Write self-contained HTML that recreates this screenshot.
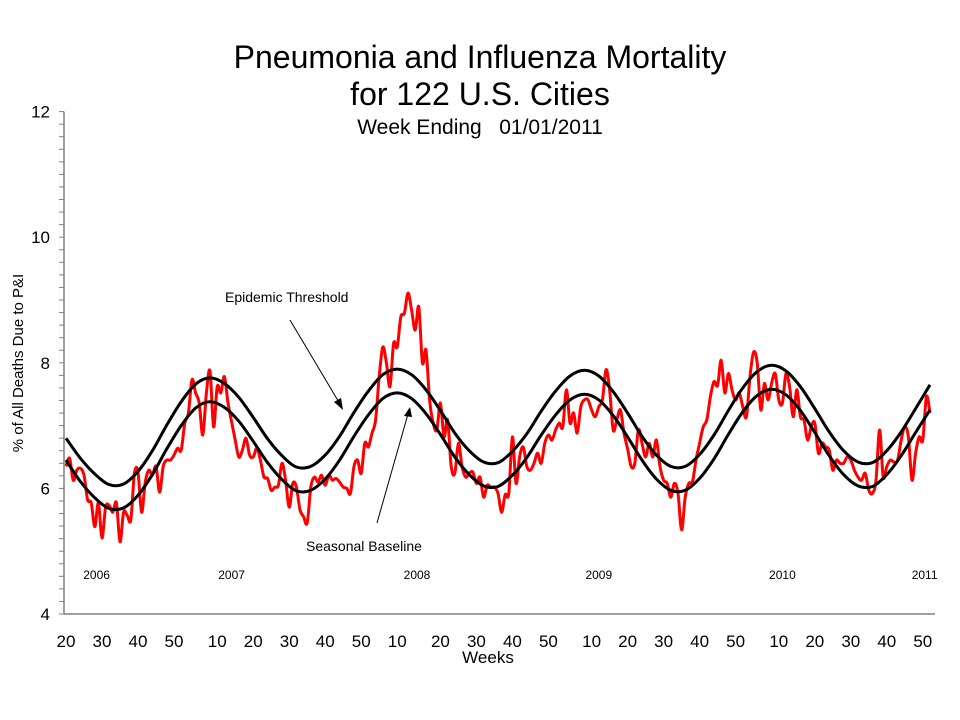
<!DOCTYPE html>
<html><head><meta charset="utf-8"><style>
html,body{margin:0;padding:0;background:#fff;}
svg{display:block;font-family:"Liberation Sans",Arial,sans-serif;}
</style></head><body>
<svg id="chart" width="960" height="720" viewBox="0 0 960 720">
<rect x="0" y="0" width="960" height="720" fill="#fff"/>
<text x="480" y="68" text-anchor="middle" font-size="32">Pneumonia and Influenza Mortality</text>
<text x="480" y="105" text-anchor="middle" font-size="32">for 122 U.S. Cities</text>
<text x="480" y="134" text-anchor="middle" font-size="21" xml:space="preserve">Week Ending   01/01/2011</text>
<text transform="translate(23,363) rotate(-90)" text-anchor="middle" font-size="15">% of All Deaths Due to P&amp;I</text>
<text x="488" y="663" text-anchor="middle" font-size="17">Weeks</text>
<g id="axes"></g>
<g id="series"></g>
<text x="225" y="302" font-size="14">Epidemic Threshold</text>
<text x="306" y="551" font-size="14">Seasonal Baseline</text>
<g>
<line x1="290" y1="320" x2="340" y2="404" stroke="#000" stroke-width="1"/>
<polygon points="343,410 334,402 341,398" fill="#000"/>
</g>
<g>
<line x1="377" y1="523" x2="408" y2="414" stroke="#000" stroke-width="1"/>
<polygon points="410,407 404,416 412,417" fill="#000"/>
</g>
</svg>
<script>
const pctValues = [6.35,6.48,6.13,6.29,6.32,6.21,5.82,5.77,5.39,5.77,5.21,5.70,5.73,5.62,5.77,5.15,5.62,5.57,5.50,6.24,
6.26,5.62,6.09,6.29,6.21,6.35,5.94,6.35,6.45,6.45,6.53,6.64,6.61,7.04,7.20,7.73,7.52,7.36,6.85,7.52,
7.87,6.98,7.62,7.52,7.78,7.36,7.06,6.77,6.50,6.61,6.80,6.53,6.50,6.64,6.45,6.18,6.16,5.97,6.02,6.05,
6.40,6.13,5.70,6.08,6.02,5.66,5.55,5.45,6.02,6.18,6.10,6.21,6.05,6.21,6.13,6.16,6.10,6.02,6.00,5.92,
6.35,6.45,6.24,6.72,6.66,6.88,7.09,7.78,8.25,8.00,7.62,8.31,8.25,8.73,8.79,9.11,8.84,8.52,8.89,8.00,
8.20,7.41,7.04,6.93,7.36,6.82,7.09,6.35,6.24,6.72,6.35,6.18,6.24,6.26,6.08,6.18,5.86,6.05,6.02,6.02,
5.92,5.62,5.90,5.92,6.82,6.08,6.50,6.66,6.35,6.29,6.40,6.56,6.40,6.72,6.85,6.77,6.93,7.04,6.98,7.57,
7.04,7.20,6.88,7.30,7.41,7.41,7.25,7.14,7.30,7.41,7.89,7.57,6.93,7.09,7.25,6.88,6.63,6.35,6.40,6.93,
6.72,6.50,6.72,6.50,6.77,6.35,6.13,6.08,5.86,6.08,5.92,5.34,5.86,6.08,6.10,6.45,6.72,6.98,7.09,7.46,
7.70,7.64,8.04,7.52,7.83,7.57,7.41,7.52,7.30,7.14,7.78,8.17,8.00,7.25,7.67,7.41,7.67,7.83,7.41,7.36,
7.83,7.62,7.14,7.57,7.14,7.09,6.77,6.98,7.04,6.56,6.72,6.66,6.61,6.29,6.45,6.40,6.40,6.50,6.45,6.29,
6.18,6.13,6.24,5.97,5.92,6.13,6.93,6.18,6.35,6.45,6.42,6.45,6.77,6.98,6.82,6.13,6.56,6.82,6.77,7.46,7.20];
const baselineValues = [6.45,6.11,5.85,5.68,5.69,5.89,6.22,6.63,7.00,7.28,7.38,7.29,7.07,6.75,6.41,6.14,5.96,5.97,6.15,6.45,
6.83,7.17,7.43,7.52,7.43,7.19,6.86,6.50,6.22,6.04,6.03,6.21,6.49,6.85,7.17,7.41,7.50,7.41,7.16,6.82,
6.45,6.15,5.97,5.97,6.16,6.47,6.86,7.22,7.48,7.58,7.49,7.24,6.89,6.52,6.22,6.04,6.03,6.22,6.52,6.89,7.25];
const thresholdValues = [6.80,6.48,6.23,6.06,6.07,6.27,6.60,7.01,7.38,7.66,7.76,7.67,7.45,7.13,6.79,6.52,6.34,6.35,6.53,6.83,
7.21,7.55,7.81,7.90,7.81,7.57,7.24,6.88,6.60,6.42,6.41,6.59,6.87,7.23,7.55,7.79,7.88,7.79,7.54,7.20,
6.83,6.53,6.35,6.35,6.54,6.85,7.24,7.60,7.86,7.96,7.87,7.62,7.27,6.90,6.60,6.42,6.41,6.60,6.90,7.27,7.65];
const baselineStep = 4;
const yTicks = [4,6,8,10,12];
const weekTickLabels = ["20","30","40","50","10","20","30","40","50","10","20","30","40","50","10","20","30","40","50","10","20","30","40","50"];
const weekTickIndex = [0,10,20,30,42,52,62,72,82,92,104,114,124,134,146,156,166,176,186,198,208,218,228,238];
const yearLabels = ["2006","2007","2008","2009","2010","2011"];
const yearLabelIndex = [8.5,46,97.5,148,199,238.5];

const X0 = 66, XSTEP = 3.6, Y4 = 614, YUNIT = 62.8;
function xScale(i){ return X0 + i*XSTEP; }
function yScale(v){ return Y4 - (v-4)*YUNIT; }
const NS = "http://www.w3.org/2000/svg";
function mk(tag, parent){ const e=document.createElementNS(NS,tag); parent.appendChild(e); return e; }
function smoothPath(pts){
  let d = "M"+pts[0][0].toFixed(1)+","+pts[0][1].toFixed(1);
  for(let k=0;k<pts.length-1;k++){
    const p0=pts[Math.max(0,k-1)], p1=pts[k], p2=pts[k+1], p3=pts[Math.min(pts.length-1,k+2)];
    const c1x=p1[0]+(p2[0]-p0[0])/6, c1y=p1[1]+(p2[1]-p0[1])/6;
    const c2x=p2[0]-(p3[0]-p1[0])/6, c2y=p2[1]-(p3[1]-p1[1])/6;
    d += " C"+c1x.toFixed(1)+","+c1y.toFixed(1)+" "+c2x.toFixed(1)+","+c2y.toFixed(1)+" "+p2[0].toFixed(1)+","+p2[1].toFixed(1);
  }
  return d;
}
const axes = document.getElementById("axes");
const yAxis = mk("line", axes);
yAxis.setAttribute("x1",64); yAxis.setAttribute("x2",64); yAxis.setAttribute("y1",yScale(12)); yAxis.setAttribute("y2",Y4);
yAxis.setAttribute("stroke","#808080"); yAxis.setAttribute("stroke-width","1.5");


const xAxis = mk("line", axes);
xAxis.setAttribute("x1",64); xAxis.setAttribute("x2",935); xAxis.setAttribute("y1",Y4); xAxis.setAttribute("y2",Y4);
xAxis.setAttribute("stroke","#808080"); xAxis.setAttribute("stroke-width","1.5");


for(let v=4; v<=12.001; v+=0.2){
  const t = mk("line", axes);
  const y = yScale(v);
  t.setAttribute("x1", 59); t.setAttribute("x2", 64); t.setAttribute("y1", y); t.setAttribute("y2", y);
  t.setAttribute("stroke","#808080"); t.setAttribute("stroke-width","1");
  
  
}
yTicks.forEach(v=>{
  const t = mk("text", axes);
  t.setAttribute("x", 50); t.setAttribute("y", yScale(v)+6); t.setAttribute("text-anchor","end"); t.setAttribute("font-size","17");
  t.textContent = String(v);
  
  
});
weekTickLabels.forEach((lab,k)=>{
  const t = mk("text", axes);
  t.setAttribute("x", xScale(weekTickIndex[k])); t.setAttribute("y", 647); t.setAttribute("text-anchor","middle"); t.setAttribute("font-size","17");
  t.textContent = lab;
  
  
});
yearLabels.forEach((lab,k)=>{
  const t = mk("text", axes);
  t.setAttribute("x", xScale(yearLabelIndex[k])); t.setAttribute("y", 579); t.setAttribute("text-anchor","middle"); t.setAttribute("font-size","12");
  t.textContent = lab;
  
  
});
const series = document.getElementById("series");
const redPts = pctValues.map((v,i)=>[xScale(i), yScale(v)]);
const red = mk("path", series);
red.setAttribute("d", smoothPath(redPts)); red.setAttribute("fill","none"); red.setAttribute("stroke","#ff0000"); red.setAttribute("stroke-width","3"); red.setAttribute("stroke-linejoin","round");


const basePts = baselineValues.map((v,k)=>[xScale(k*baselineStep), yScale(v)]);
const base = mk("path", series);
base.setAttribute("d", smoothPath(basePts)); base.setAttribute("fill","none"); base.setAttribute("stroke","#000"); base.setAttribute("stroke-width","3");


const thrPts = thresholdValues.map((v,k)=>[xScale(k*baselineStep), yScale(v)]);
const thr = mk("path", series);
thr.setAttribute("d", smoothPath(thrPts)); thr.setAttribute("fill","none"); thr.setAttribute("stroke","#000"); thr.setAttribute("stroke-width","3");


</script>
</body></html>
